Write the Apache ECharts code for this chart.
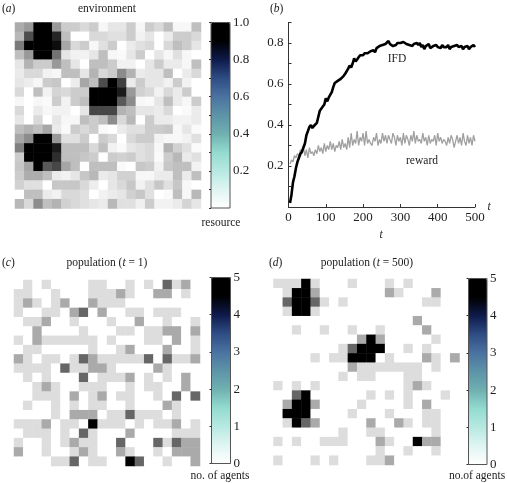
<!DOCTYPE html>
<html>
<head>
<meta charset="utf-8" />
<title>environment and population</title>
<style type="text/css">
  html {height:100%}
  body {height:100%; margin:0; padding:0; background:#fff}
  #main {width:507px; height:483px}
</style>
<script type="text/javascript" src="https://cdn.jsdelivr.net/npm/echarts@6/dist/echarts.min.js"></script>
</head>
<body>
<div id="main"></div>
<script type="text/javascript">
// panel (a): resource per cell, rows top to bottom
var resource = [
  [.33,.40,1,1,.40,.20,.20,.15,.20,.03,.10,.10,.20,.03,.20,.15,.25,.03,.03,.25],
  [.28,.70,1,1,.85,.25,0,0,.15,.15,.12,.12,.20,.05,.10,0,.08,.20,.20,.15],
  [.52,1,1,1,.95,.35,.15,.20,.03,.12,.20,0,.08,.12,.15,0,.15,.25,.20,.10],
  [.25,.40,1,1,.55,.10,.05,.05,.10,.25,.03,.02,.10,.20,0,.10,.03,.12,.03,0],
  [.10,.30,.20,.20,.40,.25,.10,0,.25,.25,.20,.05,.05,0,.10,.20,.08,.08,.03,.25],
  [.08,.15,.15,.05,.03,.25,.25,.10,.30,.15,.20,.45,.30,.08,.10,.10,.25,0,.08,.15],
  [.10,.07,.03,.20,.22,0,.07,.35,.25,.70,1,.75,.08,.20,.10,.10,.05,.20,.05,0],
  [.15,0,.25,.05,.17,.15,.20,.20,1,1,1,.90,.40,.18,.15,.05,.15,.08,.20,0],
  [.03,0,.03,.02,.20,.05,.20,.25,1,1,1,.65,.45,.03,.02,.10,.25,.08,.03,.20],
  [.15,0,.08,.03,.05,.05,0,.10,.72,.72,.72,.30,.25,.10,.10,.08,.15,0,.02,.08],
  [.10,0,.15,0,.10,.03,.03,.25,.20,.25,.45,.15,.28,0,.20,.08,.08,.05,.05,.08],
  [.25,.30,.25,.35,.08,.02,.20,.15,.20,.02,0,.08,.12,.12,.20,.20,.22,.03,.10,.02],
  [.35,.45,1,1,.40,.12,.12,.20,0,.20,.15,0,.15,.20,.20,.05,.03,.03,.05,.12],
  [.50,1,1,1,.90,.25,.25,.25,.15,.25,.05,.02,.10,.12,.15,.03,.30,.18,.12,.02],
  [.20,1,1,1,.82,.25,.25,.22,.20,0,.20,.18,.20,.12,.15,.02,.20,.28,.08,.12],
  [.22,.35,1,.65,.72,.35,.25,0,.25,.25,.25,.02,0,.22,.20,.05,.22,.25,.25,.05],
  [.20,.32,.32,.25,.08,.05,.10,.22,.28,.08,.10,.18,.18,.03,.03,.08,.08,.25,.08,.25],
  [.18,.12,.12,0,.22,.22,.22,.15,.07,0,.10,.15,.22,.05,.12,.22,.12,.22,.03,0],
  [0,.25,.25,.08,.05,.15,.15,.12,0,.05,.08,.10,.18,.22,.12,0,.02,.25,.03,.28],
  [.28,.15,.45,.25,.30,.18,.15,.12,.10,.08,.28,.12,.12,.06,.20,.05,.05,.08,.17,.10]
];

// panel (c): agents per cell at t = 1
var popStart = [
  [0,1,0,1,0,0,0,0,1,1,0,0,1,0,1,0,3,1,2,0],
  [1,1,0,0,1,0,0,0,1,1,1,2,1,0,0,2,2,0,1,0],
  [1,2,1,0,1,2,0,0,2,1,1,1,0,0,0,0,0,0,0,0],
  [1,0,0,1,1,0,2,3,0,2,0,0,1,1,0,1,1,1,0,0],
  [0,1,1,2,0,0,1,0,0,0,1,0,0,2,0,0,1,0,0,1],
  [0,0,2,0,0,0,0,1,0,0,0,1,1,0,1,1,2,2,0,2],
  [1,0,2,1,1,1,1,1,1,0,1,0,0,0,1,1,0,2,0,1],
  [0,1,1,0,0,0,0,0,1,0,0,1,2,0,0,0,2,0,0,1],
  [2,1,0,1,1,0,1,3,2,1,1,1,1,1,3,0,3,1,1,2],
  [1,1,1,1,0,3,1,1,2,2,1,0,0,0,0,2,1,0,0,0],
  [0,1,0,1,0,0,0,3,0,1,1,1,2,0,1,0,1,0,2,0],
  [0,0,1,2,1,0,0,1,1,1,0,0,1,0,1,1,0,0,2,0],
  [0,0,1,1,1,0,2,0,1,2,0,1,1,0,0,1,0,3,0,3],
  [0,1,0,0,1,0,1,0,1,1,0,0,1,0,0,0,2,1,0,0],
  [0,0,0,0,1,0,2,2,2,0,1,1,3,1,1,1,0,1,0,0],
  [1,1,1,2,0,1,1,0,5,1,1,1,0,1,0,1,1,2,0,1],
  [0,1,1,1,0,1,0,3,1,0,0,0,2,0,0,0,0,1,1,1],
  [1,0,0,1,0,1,2,1,1,0,0,3,0,0,0,3,1,3,2,2],
  [2,0,0,1,0,0,1,2,1,0,0,2,1,0,0,1,0,2,2,2],
  [0,0,0,0,1,1,3,0,1,1,0,0,5,3,0,0,1,0,0,2]
];

// panel (d): agents per cell at t = 500
var popEnd = [
  [1,1,1,5,1,0,0,0,1,0,0,0,1,0,1,0,0,0,0,0],
  [0,1,5,5,2,0,0,0,0,0,0,0,2,1,0,0,0,2,0,0],
  [0,3,5,5,3,1,0,1,0,0,0,0,0,0,0,0,1,1,0,0],
  [0,1,5,5,1,0,0,0,0,0,0,0,0,0,0,0,0,0,0,0],
  [0,0,0,0,0,0,0,0,0,0,0,0,0,0,0,2,0,0,0,0],
  [0,0,1,0,0,1,0,0,1,0,0,1,0,0,0,0,2,0,0,0],
  [0,0,0,0,0,0,0,0,0,2,5,2,0,0,0,0,0,1,0,0],
  [0,0,0,0,0,0,0,1,3,5,5,5,0,0,1,0,1,0,0,0],
  [0,0,0,0,1,0,1,1,5,5,5,0,1,0,0,0,2,1,0,2],
  [0,0,0,0,0,0,0,0,2,1,1,1,1,1,1,1,0,1,0,0],
  [0,0,0,0,0,0,0,1,0,1,1,0,0,0,1,1,0,0,0,0],
  [1,0,1,0,1,0,0,0,0,0,0,0,0,0,1,2,1,0,0,0],
  [0,0,3,5,0,0,0,0,0,0,1,0,1,0,1,0,0,0,1,0],
  [0,2,5,5,2,0,0,0,0,1,0,0,0,0,1,0,2,0,0,0],
  [0,5,5,5,0,0,0,0,1,0,0,0,1,0,0,0,1,1,0,0],
  [0,1,5,3,2,0,0,0,0,0,2,0,0,2,1,0,1,1,0,0],
  [0,0,0,0,0,0,0,1,0,0,1,1,0,0,0,0,0,1,0,0],
  [1,0,1,0,0,1,1,1,0,0,0,2,1,0,0,5,2,2,0,0],
  [0,0,0,0,0,0,0,0,0,0,0,1,0,0,1,0,0,1,0,0],
  [1,0,0,0,1,0,1,0,0,0,1,1,2,0,0,0,0,0,0,0]
];

// panel (b), one value every 4 time steps
var stepT = 4;
var ifd = [
  .02,.06,.12,.15,.19,.22,.24,.26,.27,.29,.31,.35,.37,.39,.40,.385,.395,.39,.41,.44,
  .47,.465,.49,.50,.53,.515,.535,.53,.56,.585,.605,.605,.615,.61,.625,.62,.64,.65,.655,.675,
  .69,.68,.70,.725,.71,.72,.73,.74,.745,.74,.75,.755,.75,.755,.76,.76,.765,.755,.775,.77,
  .785,.78,.79,.785,.795,.80,.81,.795,.80,.785,.79,.79,.80,.795,.80,.80,.805,.80,.795,.80,
  .79,.795,.785,.795,.79,.80,.79,.80,.78,.79,.77,.785,.79,.795,.775,.78,.785,.78,.79,.78,
  .785,.775,.79,.78,.785,.78,.79,.77,.78,.785,.785,.78,.79,.78,.775,.785,.77,.78,.775,.785,
  .77,.78,.775,.79,.78
];
var reward = [
  .21,.23,.22,.25,.24,.26,.25,.28,.26,.29,.25,.28,.24,.29,.26,.27,.25,.28,.26,.30,
  .27,.29,.26,.31,.27,.30,.28,.32,.28,.31,.27,.30,.29,.32,.28,.33,.29,.31,.28,.34,
  .29,.36,.30,.33,.31,.37,.30,.34,.32,.36,.30,.37,.31,.33,.31,.30,.34,.32,.36,.30,
  .33,.31,.36,.32,.35,.31,.35,.33,.31,.36,.34,.30,.35,.32,.34,.30,.36,.31,.35,.33,
  .30,.35,.32,.37,.31,.35,.32,.33,.31,.36,.32,.34,.30,.35,.31,.33,.32,.35,.30,.36,
  .32,.34,.31,.33,.32,.30,.34,.31,.35,.33,.29,.32,.35,.31,.34,.30,.36,.32,.30,.35,
  .31,.34,.30,.35,.32
];

var yTicks = ['0.2', '0.4', '0.6', '0.8'];
var barTicksA = ['0.2', '0.4', '0.6', '0.8', '1.0'];

var serif = '"Liberation Serif", serif';
var barColors = ['#ffffff', '#dff5f2', '#b6e9e1', '#93dbcf', '#6fb0b0', '#5d93a8',
                 '#4a72a0', '#2e4c84', '#0e1a4a', '#000000', '#000000'];
var grayCounts = ['#ffffff', '#dddddd', '#aaaaaa', '#666666', '#111111', '#000000'];

function cells(rows) {
  var out = [];
  rows.forEach(function (row, r) {
    row.forEach(function (v, c) { out.push([c, r, v]); });
  });
  return out;
}
function steps(n) {
  var out = [];
  for (var i = 0; i < n; i++) out.push(i);
  return out;
}
function timed(vals) {
  return vals.map(function (v, i) { return [(i + 1) * stepT, v]; });
}
function caption(x, y, text, align) {
  return {
    type: 'text', x: x, y: y, silent: true,
    style: {
      text: text, align: align || 'left', verticalAlign: 'middle',
      fontFamily: serif, fontSize: 11.5, fill: '#222',
      rich: {i: {fontStyle: 'italic', fontFamily: serif, fontSize: 11.5, fill: '#222'}}
    }
  };
}

// map grids: 0 a, 1 c, 2 d; bar grids: 3 a, 4 c, 5 d; line grid: 6
var mapBoxes = [[15, 22.5, 186, 186], [14, 280, 186, 186], [273.5, 279, 186, 186]];
var barBoxes = [[211, 22.5, 19, 185.5], [211.5, 277.5, 19, 186], [468.5, 278.5, 18.5, 186]];
var grids = [], xAxes = [], yAxes = [], series = [], visualMaps = [];

mapBoxes.forEach(function (b, i) {
  grids.push({left: b[0], top: b[1], width: b[2], height: b[3]});
  xAxes.push({type: 'category', gridIndex: i, data: steps(20), show: false});
  yAxes.push({type: 'category', gridIndex: i, data: steps(20), inverse: true, show: false});
});
[resource, popStart, popEnd].forEach(function (rows, i) {
  series.push({type: 'heatmap', xAxisIndex: i, yAxisIndex: i, data: cells(rows), silent: true});
});
visualMaps.push({show: false, seriesIndex: 0, min: 0, max: 1, inRange: {color: ['#ffffff', '#000000']}});
visualMaps.push({show: false, seriesIndex: [1, 2], min: 0, max: 5, inRange: {color: grayCounts}});

barBoxes.forEach(function (b, i) {
  var k = i + 3;
  var isFrac = i === 0;
  grids.push({left: b[0], top: b[1], width: b[2], height: b[3], show: true,
              borderColor: '#555', borderWidth: 1, backgroundColor: 'transparent', z: 6});
  xAxes.push({type: 'value', gridIndex: k, show: false, min: 0, max: 1});
  yAxes.push({
    type: 'value', gridIndex: k, position: 'right', z: 6,
    min: 0, max: isFrac ? 1 : 5, interval: isFrac ? 0.1 : 1,
    axisLine: {show: false}, splitLine: {show: false},
    axisTick: {inside: true, length: 2, lineStyle: {color: '#333'}},
    axisLabel: {
      inside: false, margin: 3, fontFamily: serif, fontSize: 13, color: '#222',
      formatter: isFrac ? function (v) {
        var s = v.toFixed(1);
        return barTicksA.indexOf(s) >= 0 ? s : '';
      } : '{value}'
    }
  });
  series.push({type: 'scatter', xAxisIndex: k, yAxisIndex: k, data: []});
  visualMaps.push({
    type: 'continuous', seriesIndex: k, min: 0, max: isFrac ? 1 : 5,
    left: b[0], top: b[1], itemWidth: b[2], itemHeight: b[3], padding: 0, z: 1,
    calculable: false, hoverLink: false, text: null, showLabel: false,
    inRange: {color: barColors}
  });
});

grids.push({left: 288.5, top: 22.5, width: 186.5, height: 184.5});
xAxes.push({
  type: 'value', gridIndex: 6, min: 0, max: 500, interval: 100,
  axisLine: {lineStyle: {color: '#333'}},
  axisTick: {inside: true, length: 3, lineStyle: {color: '#333'}},
  splitLine: {show: false},
  axisLabel: {margin: 4, fontFamily: serif, fontSize: 13, color: '#222'}
});
yAxes.push({
  type: 'value', gridIndex: 6, min: 0, max: 0.9, interval: 0.1,
  axisLine: {show: true, lineStyle: {color: '#333'}},
  axisTick: {inside: true, length: 3, lineStyle: {color: '#333'}},
  splitLine: {show: false},
  axisLabel: {
    margin: 5, fontFamily: serif, fontSize: 13, color: '#222',
    formatter: function (v) {
      var s = v.toFixed(1);
      return yTicks.indexOf(s) >= 0 ? s : '';
    }
  }
});
series.push({
  type: 'line', name: 'reward', xAxisIndex: 6, yAxisIndex: 6, data: timed(reward),
  showSymbol: false, silent: true, z: 2, lineStyle: {color: '#a0a0a0', width: 1.3}
});
series.push({
  type: 'line', name: 'IFD', xAxisIndex: 6, yAxisIndex: 6, data: timed(ifd),
  showSymbol: false, silent: true, z: 3, lineStyle: {color: '#000', width: 2.6}
});

var captions = [
  caption(2, 9, '({i|a})'),
  caption(107, 9, 'environment', 'center'),
  caption(221, 223, 'resource', 'center'),
  caption(270, 9, '({i|b})'),
  caption(397, 59, 'IFD', 'center'),
  caption(422, 161, 'reward', 'center'),
  caption(489, 207, '{i|t}', 'center'),
  caption(381, 235, '{i|t}', 'center'),
  caption(2, 263, '({i|c})'),
  caption(107, 263, 'population ({i|t} = 1)', 'center'),
  caption(220, 476, 'no. of agents', 'center'),
  caption(269, 263, '({i|d})'),
  caption(367, 263, 'population ({i|t} = 500)', 'center'),
  caption(477, 476, 'no.of agents', 'center')
];

var myChart = echarts.init(document.getElementById('main'));
myChart.setOption({
  animation: false,
  grid: grids,
  xAxis: xAxes,
  yAxis: yAxes,
  visualMap: visualMaps,
  series: series,
  graphic: {elements: captions}
});
</script>
</body>
</html>
